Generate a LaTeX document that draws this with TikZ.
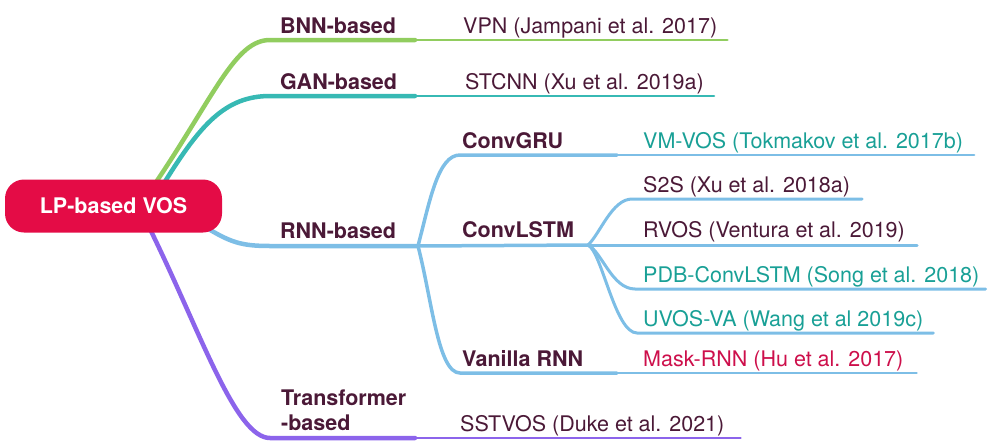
\documentclass[tikz,border=0pt]{standalone}
\usepackage{fontspec}
\setmainfont{TeX Gyre Heros}
\usetikzlibrary{calc,backgrounds}
\definecolor{VosRed}{RGB}{228,12,70}
\definecolor{BnnGreen}{RGB}{145,205,95}
\definecolor{GanTeal}{RGB}{55,185,180}
\definecolor{RnnBlue}{RGB}{125,190,230}
\definecolor{TrfPurple}{RGB}{140,100,235}
\definecolor{InkDark}{RGB}{75,25,55}
\definecolor{InkTeal}{RGB}{25,160,150}
\definecolor{InkRed}{RGB}{205,15,75}
\tikzset{
  rootbox/.style={rectangle,rounded corners=19pt,fill=VosRed,text=white,inner sep=0pt,
    minimum width=217pt,minimum height=53pt,font=\bfseries\fontsize{21.5}{25}\selectfont},
  catlabel/.style={anchor=base west,inner sep=0pt,text=InkDark,font=\bfseries\fontsize{21.5}{25}\selectfont},
  leafitem/.style={anchor=base west,inner sep=0pt,text=InkDark,font=\fontsize{21.5}{25}\selectfont},
  trunk/.style={line width=4.5pt,line cap=round},
  bough/.style={line width=3.5pt,line cap=round},
  twig/.style={line width=2.5pt,line cap=round},
}
\tikzset{tealtext/.style={text=InkTeal},redtext/.style={text=InkRed}}

\begin{document}
\begin{tikzpicture}[x=1pt,y=-1pt]
\useasboundingbox (0,0) rectangle (1004,445);
\node[rootbox] (vos) at (113.5,206) {LP-based VOS};
% first level
\node[catlabel] (bnn) at (280,33) {BNN-based};
\node[catlabel] (gan) at (280,89) {GAN-based};
\node[catlabel] (rnn) at (280,238) {RNN-based};
\node[catlabel,anchor=north west,align=left] (trf) at (281,389.5) {Transformer\\-based};
% second level
\node[catlabel] (gru) at (462,148) {ConvGRU};
\node[catlabel] (lstm) at (462,237) {ConvLSTM};
\node[catlabel] (van) at (462,366) {Vanilla RNN};
% papers
\node[leafitem] (vpn) at (463,33) {VPN (Jampani et al. 2017)};
\node[leafitem] (stcnn) at (465,89) {STCNN (Xu et al. 2019a)};
\node[leafitem,tealtext] (vmvos) at (643,148) {VM-VOS (Tokmakov et al. 2017b)};
\node[leafitem] (s2s) at (643,192) {S2S (Xu et al. 2018a)};
\node[leafitem] (rvos) at (643,237) {RVOS (Ventura et al. 2019)};
\node[leafitem,tealtext] (pdb) at (643,282) {PDB-ConvLSTM (Song et al. 2018)};
\node[leafitem,tealtext] (uvos) at (643,326) {UVOS-VA (Wang et al 2019c)};
\node[leafitem,redtext] (maskrnn) at (643,366) {Mask-RNN (Hu et al. 2017)};
\node[leafitem] (sstvos) at (460,431) {SSTVOS (Duke et al. 2021)};
% junctions
\coordinate (bnnJ) at (415,40);
\coordinate (ganJ) at (415,96);
\coordinate (rnnJ) at (418,246);
\coordinate (trfJ) at (415,438);
\coordinate (gruJ) at (617,155);
\coordinate (lstmJ) at (588,245);
\coordinate (vanJ) at (617,373);

\begin{scope}[on background layer]
\draw[trunk,BnnGreen] ($(vos.center)+(40,-20)$) .. controls (215,95) and (235,40) .. (270,40) -- (bnnJ);
\draw[twig,BnnGreen] (bnnJ) -- ($(vpn.east |- bnnJ)+(10,0)$);
\draw[trunk,GanTeal] ($(vos.center)+(50,-22)$) .. controls (200,125) and (225,96) .. (270,96) -- (ganJ);
\draw[twig,GanTeal] (ganJ) -- ($(stcnn.east |- ganJ)+(10,0)$);
\draw[trunk,TrfPurple] ($(vos.center)+(35,20)$) .. controls (200,330) and (235,438) .. (270,438) -- (trfJ);
\draw[twig,TrfPurple] (trfJ) -- ($(sstvos.east |- trfJ)+(16,0)$);
\draw[trunk,RnnBlue] ($(vos.center)+(90,20)$) .. controls (230,242) and (240,246) .. (270,246) -- (rnnJ);
% RNN sub-branches
\draw[bough,RnnBlue] (rnnJ) .. controls (430,200) and (438,155) .. (460,155) -- (gruJ);
\draw[twig,RnnBlue] (gruJ) -- ($(vmvos.east |- gruJ)+(11,0)$);
\draw[bough,RnnBlue] (rnnJ) -- (lstmJ);
\draw[bough,RnnBlue] (rnnJ) .. controls (432,300) and (438,373) .. (460,373) -- (vanJ);
\draw[twig,RnnBlue] (vanJ) -- ($(maskrnn.east |- vanJ)+(13,0)$);
% ConvLSTM papers
\draw[twig,RnnBlue,line width=3pt] (lstmJ) .. controls (600,234) and (612,199) .. (632,199) -- ($(s2s.east |- 0,199)+(12,0)$);
\draw[twig,RnnBlue,line width=3pt] (lstmJ) -- ($(rvos.east |- lstmJ)+(12,0)$);
\draw[twig,RnnBlue,line width=3pt] (lstmJ) .. controls (602,252) and (612,289) .. (635,289) -- ($(pdb.east |- 0,289)+(6,0)$);
\draw[twig,RnnBlue,line width=3pt] (lstmJ) .. controls (602,252) and (615,333) .. (637,333) -- ($(uvos.east |- 0,333)+(10,0)$);
\end{scope}
\end{tikzpicture}
\end{document}
